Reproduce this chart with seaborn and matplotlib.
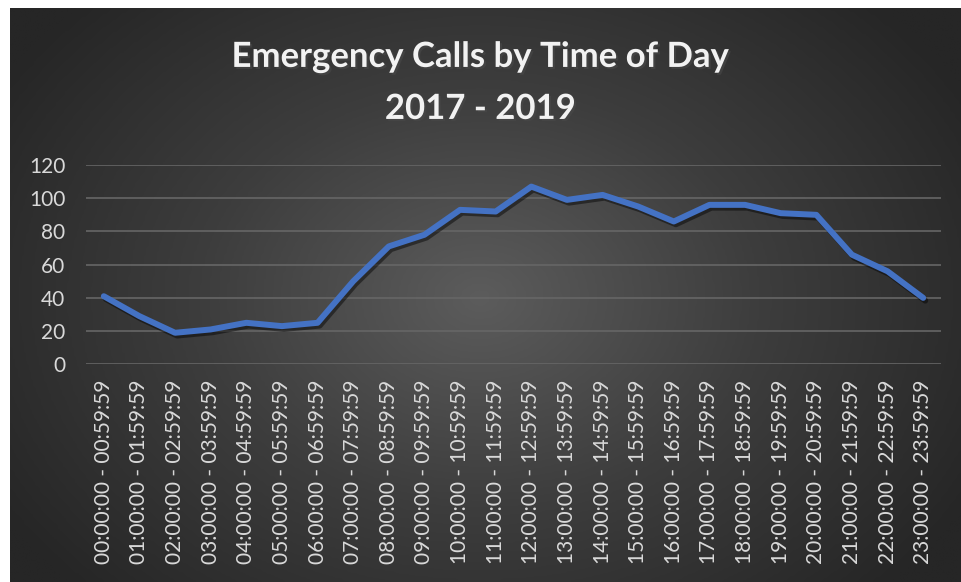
import numpy as np
import pandas as pd
import seaborn as sns
import matplotlib
matplotlib.use("Agg")
import matplotlib.pyplot as plt
import matplotlib.patheffects as pe
from matplotlib.colors import LinearSegmentedColormap

# Hour buckets and call counts
hours = [f"{h:02d}:00:00 - {h:02d}:59:59" for h in range(24)]
calls = [41, 29, 19, 21, 25, 23, 25, 50, 71, 78, 93, 92,
         107, 99, 102, 95, 86, 96, 96, 91, 90, 66, 56, 40]
y_ticks = [0, 20, 40, 60, 80, 100, 120]
title_text = "Emergency Calls by Time of Day\n2017 - 2019"

df = pd.DataFrame({"hour": hours, "calls": calls})

sns.set_style("white")
plt.rcParams['font.family'] = ['Lato', 'DejaVu Sans']

fig = plt.figure(figsize=(9.61, 5.82), dpi=100, facecolor="white")

# dark radial gradient panel (Excel style background)
bg = fig.add_axes([10 / 961, 0, 951 / 961, 574 / 582], zorder=0)
gx, gy = np.meshgrid(np.linspace(0, 951, 400), np.linspace(0, 574, 250))
r = np.sqrt(((gx - 470) / 560) ** 2 + ((gy - 290) / 420) ** 2)
cmap = LinearSegmentedColormap.from_list("bg", ["#5c5c5c", "#3d3d3d", "#262626"])
bg.imshow(np.clip(r, 0, 1), cmap=cmap, vmin=0, vmax=1, aspect="auto",
          extent=[0, 1, 0, 1], interpolation="bilinear")
bg.axis("off")

ax = fig.add_axes([86 / 961, 0.374, 855 / 961, 0.3425], zorder=1)
ax.set_facecolor("none")

sns.lineplot(data=df, x="hour", y="calls", sort=False, ax=ax,
             color="#4472C4", linewidth=4.3, solid_joinstyle="round",
             solid_capstyle="round",
             path_effects=[pe.SimpleLineShadow(offset=(1.5, -2), alpha=0.45,
                                               shadow_color="black"),
                           pe.Normal()])

ax.set_xlim(-0.5, len(hours) - 0.5)
ax.set_ylim(0, 120)
ax.set_yticks(y_ticks)
ax.set_xticks(range(len(hours)))
ax.set_xticklabels(hours, rotation=90)
ax.set_xlabel("")
ax.set_ylabel("")
ax.yaxis.grid(True, color="#666666", linewidth=1.2)
ax.set_axisbelow(True)
for s in ax.spines.values():
    s.set_visible(False)
ax.tick_params(axis="y", length=0, pad=15, labelsize=15, labelcolor="#d9d9d9")
ax.tick_params(axis="x", length=0, pad=11, labelsize=15, labelcolor="#d9d9d9")

fig.text(0.5, 0.8575, title_text, ha="center", va="center", fontsize=25,
         fontweight="bold", color="#f2f2f2", linespacing=1.77,
         path_effects=[pe.SimplePatchShadow(offset=(1.5, -1.5), alpha=0.6),
                       pe.Normal()])

plt.savefig("out.png", dpi=100, facecolor="white")
